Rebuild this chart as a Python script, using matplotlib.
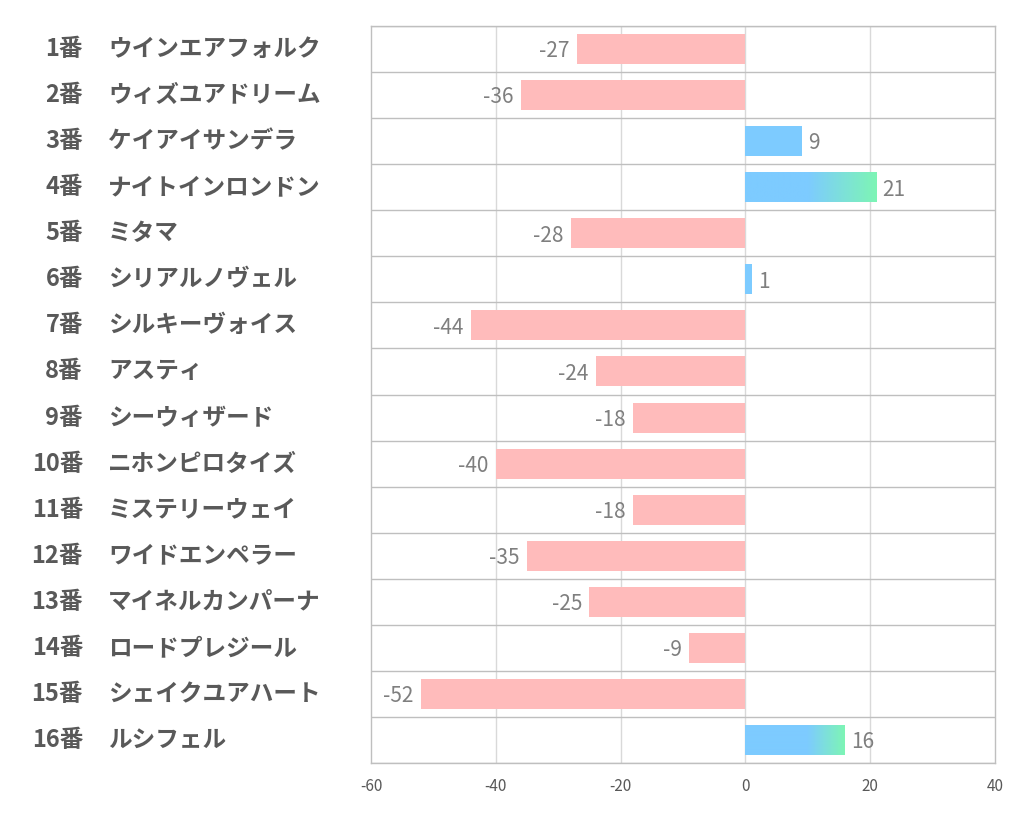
import numpy as np
import matplotlib.pyplot as plt
from matplotlib.colors import LinearSegmentedColormap

plt.rcParams['font.family'] = ['Noto Sans CJK JP', 'DejaVu Sans']
plt.rcParams['axes.unicode_minus'] = False

numbers = ['1番', '2番', '3番', '4番', '5番', '6番', '7番', '8番',
           '9番', '10番', '11番', '12番', '13番', '14番', '15番', '16番']
names = ['ウインエアフォルク', 'ウィズユアドリーム', 'ケイアイサンデラ', 'ナイトインロンドン',
         'ミタマ', 'シリアルノヴェル', 'シルキーヴォイス', 'アスティ',
         'シーウィザード', 'ニホンピロタイズ', 'ミステリーウェイ', 'ワイドエンペラー',
         'マイネルカンパーナ', 'ロードプレジール', 'シェイクユアハート', 'ルシフェル']
values = [-27, -36, 9, 21, -28, 1, -44, -24, -18, -40, -18, -35, -25, -9, -52, 16]

PINK = '#FFBBBB'
BLUE = '#7DCBFF'
GREEN = '#7DF5B5'
TXT = '#595959'

fig = plt.figure(figsize=(10.22, 8.34), dpi=100)
ax = fig.add_axes([371 / 1022, 1 - 763 / 834, 624 / 1022, 737 / 834])

n = len(values)
bh = 0.65
grad = LinearSegmentedColormap.from_list('g', [BLUE, GREEN])

for i, v in enumerate(values):
    if v < 0:
        ax.barh(i, v, height=bh, color=PINK, zorder=3)
        ax.text(v - 1.2, i + 0.05, str(v), ha='right', va='center',
                fontsize=15, color='#7F7F7F', zorder=4)
    else:
        if v > 10:
            # solid blue up to 10, then fade to green at the bar end
            xs = np.linspace(0, v, 200)
            t = np.clip((xs - 10) / (v - 10), 0, 1)
            ax.imshow(t[np.newaxis, :], cmap=grad, aspect='auto',
                      extent=(0, v, i + bh / 2, i - bh / 2), zorder=3,
                      interpolation='bilinear')
        else:
            ax.barh(i, v, height=bh, color=BLUE, zorder=3)
        ax.text(v + 1.0, i + 0.05, str(v), ha='left', va='center',
                fontsize=15, color='#7F7F7F', zorder=4)

ax.set_xlim(-60, 40)
ax.set_ylim(n - 0.5, -0.5)

for x in [-40, -20, 0, 20]:
    ax.axvline(x, color='#D9D9D9', lw=1, zorder=1)
for k in range(n + 1):
    ax.axhline(k - 0.5, color='#BFBFBF', lw=1, zorder=2)

for s in ax.spines.values():
    s.set_color('#BFBFBF')
    s.set_linewidth(1)

ax.set_yticks([])
ax.set_xticks([-60, -40, -20, 0, 20, 40])
ax.tick_params(axis='x', length=0, labelsize=11, colors=TXT, pad=11)

for i in range(n):
    y = 1 - (26 + (i + 0.5) * 737 / n) / 834
    fig.text(83 / 1022, y, numbers[i], ha='right', va='center',
             fontsize=17, fontweight='bold', color=TXT)
    fig.text(108 / 1022, y, names[i], ha='left', va='center',
             fontsize=17, fontweight='bold', color=TXT)

fig.savefig('out.png', dpi=100)
